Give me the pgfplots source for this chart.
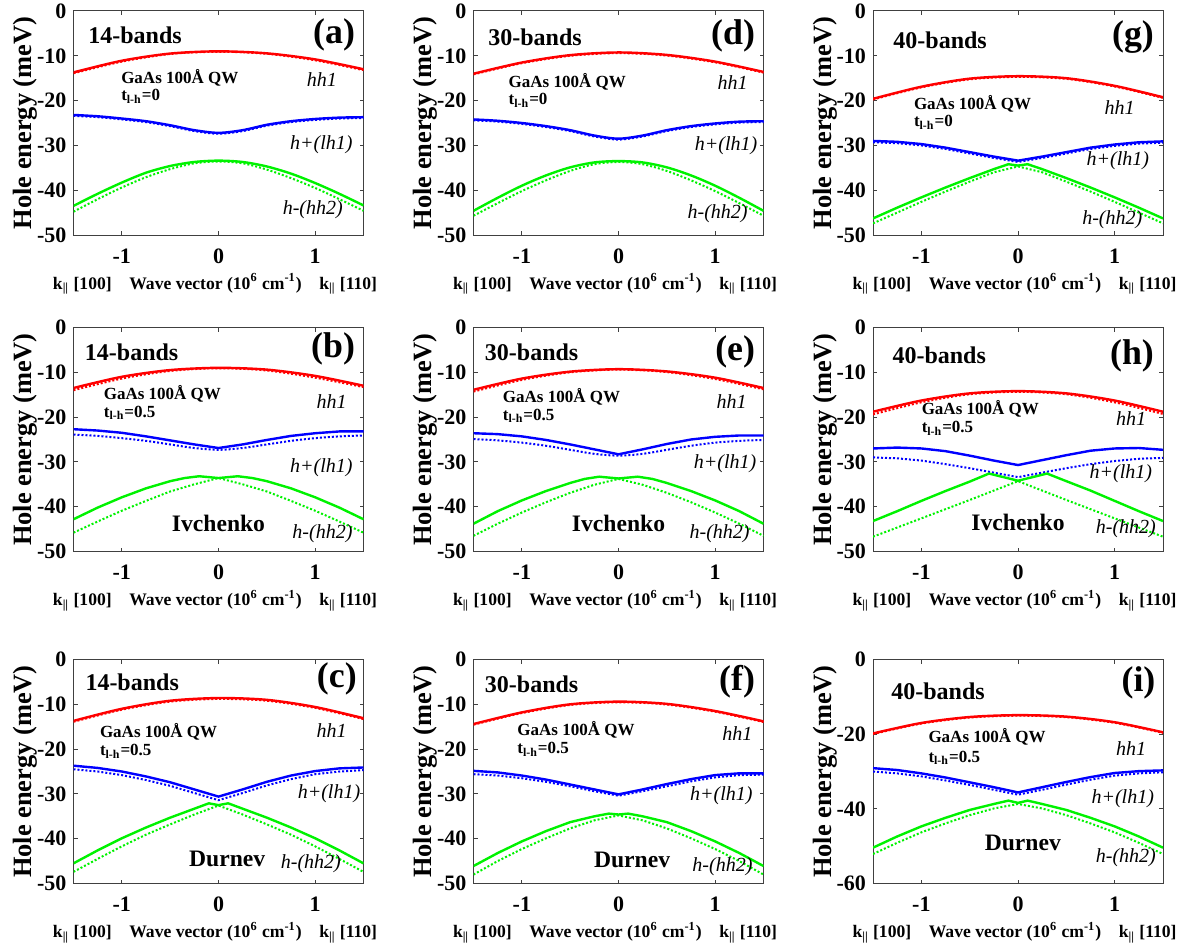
\documentclass[border=0pt]{standalone}
\usepackage{fontspec}
\setmainfont{Liberation Serif}
\usepackage{pgfplots}
\pgfplotsset{compat=1.18}
\definecolor{cR}{rgb}{1,0,0}
\definecolor{cB}{rgb}{0,0,1}
\definecolor{cG}{rgb}{0,0.95,0}
\pgfplotsset{
 panel/.style={
  width=145pt, height=112pt, scale only axis,
  xmin=-1.5, xmax=1.5, ymin=-50, ymax=0,
  xtick={-1,0,1}, ytick={-50,-40,-30,-20,-10,0},
  tick align=inside, major tick length=2pt,
  axis line style={line width=0.5pt, black!75},
  every tick/.style={black!75, line width=0.5pt},
  tick label style={font=\bfseries\fontsize{11}{12}\selectfont},
  /pgf/number format/assume math mode=true,
  xticklabel style={anchor=base, yshift=-14pt},
  ylabel={Hole energy (meV)},
  ylabel style={font=\bfseries\fontsize{13.2}{14}\selectfont, at={(axis description cs:-0.166,0.5)}, anchor=center},
  xlabel={k\textsubscript{||} [100]\quad Wave vector (10\textsuperscript{6} cm\textsuperscript{-1})\quad k\textsubscript{||} [110]},
  xlabel style={font=\bfseries\fontsize{8.8}{10}\selectfont, at={(axis description cs:0.488,0)}, anchor=center, yshift=-24.5pt},
 },
 s/.style={line width=1.2pt, no marks},
 d/.style={line width=1pt, densely dotted, no marks},
}
\newcommand{\head}[6]{%
 \node[anchor=west, inner sep=0pt, font=\bfseries\fontsize{12}{12}\selectfont] at (rel axis cs:#2,#3) {#1};
 \node[anchor=east, inner sep=0pt, font=\bfseries\fontsize{17.9}{18}\selectfont] at (rel axis cs:#5,#6) {#4};}
\newcommand{\gaas}[4]{%
 \node[anchor=base west, inner sep=0pt, font=\bfseries\fontsize{8.5}{9}\selectfont] at (axis cs:#1,#2) {GaAs 100Å QW};
 \node[anchor=base west, inner sep=0pt, font=\bfseries\fontsize{8.5}{9}\selectfont] at (axis cs:#1,#3) {t\textsubscript{l-h}=#4};}
\newcommand{\bands}[6]{%
 \node[anchor=east, inner sep=0pt, font=\itshape\fontsize{10}{10}\selectfont] at (axis cs:#1,#2) {hh1};
 \node[anchor=east, inner sep=0pt, font=\itshape\fontsize{10}{10}\selectfont] at (axis cs:#3,#4) {h+(lh1)};
 \node[anchor=east, inner sep=0pt, font=\itshape\fontsize{10}{10}\selectfont] at (axis cs:#5,#6) {h-(hh2)};}
\newcommand{\model}[3]{%
 \node[anchor=center, inner sep=0pt, font=\bfseries\fontsize{11.8}{12}\selectfont] at (axis cs:#1,#2) {#3};}
\begin{document}
\begin{tikzpicture}
\useasboundingbox (0,0) rectangle (593pt,475pt);
% ---------------- (a)
\begin{axis}[panel, at={(36.75pt,469.5pt)}, anchor=north west]
\addplot[cR,s,smooth] coordinates {(-1.5,-13.7)(-1,-11.1)(-0.5,-9.5)(0,-9.0)(0.5,-9.45)(1,-10.8)(1.5,-13.0)};
\addplot[cR,d,smooth] coordinates {(-1.5,-13.9)(-1,-11.3)(-0.5,-9.6)(0,-9.1)(0.5,-9.55)(1,-11.0)(1.5,-13.2)};
\addplot[cB,s,smooth] coordinates {(-1.5,-23.2)(-1.25,-23.5)(-1,-24.0)(-0.75,-24.6)(-0.5,-25.5)(-0.25,-26.6)(0,-27.2)(0.25,-26.6)(0.5,-25.4)(0.75,-24.6)(1,-24.1)(1.25,-23.8)(1.5,-23.7)};
\addplot[cB,d,smooth] coordinates {(-1.5,-23.4)(-1.25,-23.7)(-1,-24.2)(-0.75,-24.8)(-0.5,-25.7)(-0.25,-26.8)(0,-27.4)(0.25,-26.8)(0.5,-25.6)(0.75,-24.8)(1,-24.3)(1.25,-24.0)(1.5,-23.9)};
\addplot[cG,s,smooth] coordinates {(-1.5,-43.5)(-1.25,-40.8)(-1,-38.3)(-0.75,-36.1)(-0.5,-34.6)(-0.25,-33.7)(0,-33.4)(0.25,-33.7)(0.5,-34.7)(0.75,-36.3)(1,-38.4)(1.25,-40.8)(1.5,-43.4)};
\addplot[cG,d,smooth] coordinates {(-1.5,-44.8)(-1.25,-42.0)(-1,-39.4)(-0.75,-37.1)(-0.5,-35.3)(-0.25,-34.0)(0,-33.6)(0.25,-34.0)(0.5,-35.4)(0.75,-37.3)(1,-39.5)(1.25,-42.0)(1.5,-44.6)};
\head{14-bands}{0.05}{0.89}{(a)}{0.972}{0.893}
\gaas{-1.01}{-16.1}{-20.0}{0}
\bands{1.23}{-15.2}{1.39}{-29.9}{1.29}{-44.4}
\end{axis}
% ---------------- (b)
\begin{axis}[panel, at={(36.75pt,311.25pt)}, anchor=north west]
\addplot[cR,s,smooth] coordinates {(-1.5,-13.5)(-1,-11.0)(-0.5,-9.5)(0,-9.0)(0.5,-9.4)(1,-10.8)(1.5,-13.0)};
\addplot[cR,d,smooth] coordinates {(-1.5,-14.0)(-1,-11.4)(-0.5,-9.7)(0,-9.1)(0.5,-9.6)(1,-11.2)(1.5,-13.3)};
\addplot[cB,s] coordinates {(-1.5,-22.7)(-1.25,-23.0)(-1,-23.5)(-0.75,-24.3)(-0.5,-25.2)(-0.25,-26.1)(0,-26.9)(0.25,-26.1)(0.5,-25.1)(0.75,-24.2)(1,-23.6)(1.25,-23.2)(1.5,-23.2)};
\addplot[cB,d,smooth] coordinates {(-1.5,-23.9)(-1.25,-24.2)(-1,-24.7)(-0.75,-25.3)(-0.5,-26.1)(-0.25,-26.9)(0,-27.3)(0.25,-26.9)(0.5,-26.1)(0.75,-25.3)(1,-24.7)(1.25,-24.3)(1.5,-24.1)};
\addplot[cG,s] coordinates {(-1.5,-42.8)(-1.25,-40.2)(-1,-37.9)(-0.75,-35.9)(-0.5,-34.3)(-0.35,-33.6)(-0.2,-33.2)(0,-33.6)(0.2,-33.2)(0.35,-33.6)(0.5,-34.3)(0.75,-35.9)(1,-37.9)(1.25,-40.2)(1.5,-42.8)};
\addplot[cG,d] coordinates {(-1.5,-45.8)(-1.25,-43.3)(-1,-40.9)(-0.75,-38.7)(-0.5,-36.6)(-0.25,-35.0)(0,-33.6)(0.25,-35.0)(0.5,-36.6)(0.75,-38.7)(1,-40.9)(1.25,-43.3)(1.5,-45.8)};
\head{14-bands}{0.038}{0.89}{(b)}{0.972}{0.906}
\gaas{-1.19}{-16.1}{-20.0}{0.5}
\bands{1.33}{-16.5}{1.39}{-31.2}{1.39}{-46}
\model{0}{-43.7}{Ivchenko}
\end{axis}
% ---------------- (c)
\begin{axis}[panel, at={(36.75pt,145.25pt)}, anchor=north west]
\addplot[cR,s,smooth] coordinates {(-1.5,-13.7)(-1,-11.0)(-0.5,-9.2)(0,-8.6)(0.5,-9.0)(1,-10.6)(1.5,-13.1)};
\addplot[cR,d,smooth] coordinates {(-1.5,-13.9)(-1,-11.2)(-0.5,-9.4)(0,-8.8)(0.5,-9.2)(1,-10.8)(1.5,-13.3)};
\addplot[cB,s] coordinates {(-1.5,-23.7)(-1.25,-24.2)(-1,-25.0)(-0.75,-26.1)(-0.5,-27.4)(-0.25,-29.0)(0,-30.6)(0.25,-29.0)(0.5,-27.3)(0.75,-25.9)(1,-24.9)(1.25,-24.3)(1.5,-24.1)};
\addplot[cB,d] coordinates {(-1.5,-24.5)(-1.25,-25.0)(-1,-25.8)(-0.75,-26.9)(-0.5,-28.2)(-0.25,-29.8)(0,-31.4)(0.25,-29.8)(0.5,-28.1)(0.75,-26.7)(1,-25.6)(1.25,-25.0)(1.5,-24.7)};
\addplot[cG,s] coordinates {(-1.5,-45.5)(-1.25,-42.6)(-1,-39.9)(-0.75,-37.5)(-0.5,-35.3)(-0.25,-33.3)(-0.1,-32.1)(0,-32.5)(0.1,-32.1)(0.25,-33.3)(0.5,-35.3)(0.75,-37.5)(1,-39.9)(1.25,-42.6)(1.5,-45.5)};
\addplot[cG,d] coordinates {(-1.5,-47.4)(-1.25,-44.5)(-1,-41.7)(-0.75,-39.1)(-0.5,-36.8)(-0.25,-34.6)(0,-32.6)(0.25,-34.6)(0.5,-36.8)(0.75,-39.1)(1,-41.7)(1.25,-44.5)(1.5,-47.4)};
\head{14-bands}{0.04}{0.897}{(c)}{0.978}{0.915}
\gaas{-1.23}{-17.4}{-21.4}{0.5}
\bands{1.33}{-15.9}{1.47}{-30.0}{1.27}{-45.5}
\model{0.09}{-44.6}{Durnev}
\end{axis}
% ---------------- (d)
\begin{axis}[panel, at={(236.75pt,469.5pt)}, anchor=north west]
\addplot[cR,s,smooth] coordinates {(-1.5,-14.0)(-1,-11.5)(-0.5,-9.85)(0,-9.25)(0.5,-9.8)(1,-11.3)(1.5,-13.6)};
\addplot[cR,d,smooth] coordinates {(-1.5,-14.15)(-1,-11.65)(-0.5,-10.0)(0,-9.4)(0.5,-9.95)(1,-11.45)(1.5,-13.75)};
\addplot[cB,s,smooth] coordinates {(-1.5,-24.2)(-1.25,-24.5)(-1,-25.0)(-0.75,-25.7)(-0.5,-26.6)(-0.25,-27.8)(0,-28.5)(0.25,-27.8)(0.5,-26.6)(0.75,-25.7)(1,-25.1)(1.25,-24.7)(1.5,-24.6)};
\addplot[cB,d,smooth] coordinates {(-1.5,-24.4)(-1.25,-24.7)(-1,-25.2)(-0.75,-25.9)(-0.5,-26.8)(-0.25,-28.0)(0,-28.7)(0.25,-28.0)(0.5,-26.8)(0.75,-25.9)(1,-25.3)(1.25,-24.9)(1.5,-24.8)};
\addplot[cG,s,smooth] coordinates {(-1.5,-44.6)(-1.25,-41.7)(-1,-39.0)(-0.75,-36.7)(-0.5,-34.9)(-0.25,-33.8)(0,-33.5)(0.25,-33.8)(0.5,-34.9)(0.75,-36.7)(1,-39.0)(1.25,-41.7)(1.5,-44.6)};
\addplot[cG,d,smooth] coordinates {(-1.5,-45.7)(-1.25,-42.9)(-1,-40.2)(-0.75,-37.8)(-0.5,-35.7)(-0.25,-34.2)(0,-33.7)(0.25,-34.2)(0.5,-35.7)(0.75,-37.8)(1,-40.2)(1.25,-42.9)(1.5,-45.7)};
\head{30-bands}{0.05}{0.884}{(d)}{0.972}{0.89}
\gaas{-1.14}{-17.0}{-20.9}{0}
\bands{1.34}{-16.0}{1.44}{-30.1}{1.34}{-45.3}
\end{axis}
% ---------------- (e)
\begin{axis}[panel, at={(236.75pt,311.25pt)}, anchor=north west]
\addplot[cR,s,smooth] coordinates {(-1.5,-13.9)(-1,-11.4)(-0.5,-9.85)(0,-9.3)(0.5,-9.8)(1,-11.2)(1.5,-13.5)};
\addplot[cR,d,smooth] coordinates {(-1.5,-14.3)(-1,-11.7)(-0.5,-10.0)(0,-9.4)(0.5,-9.95)(1,-11.5)(1.5,-13.8)};
\addplot[cB,s] coordinates {(-1.5,-23.6)(-1.25,-23.8)(-1,-24.3)(-0.75,-25.1)(-0.5,-26.1)(-0.25,-27.2)(0,-28.3)(0.25,-27.2)(0.5,-26.0)(0.75,-25.0)(1,-24.4)(1.25,-24.1)(1.5,-24.1)};
\addplot[cB,d,smooth] coordinates {(-1.5,-24.9)(-1.25,-25.2)(-1,-25.7)(-0.75,-26.4)(-0.5,-27.3)(-0.25,-28.2)(0,-28.6)(0.25,-28.2)(0.5,-27.3)(0.75,-26.4)(1,-25.7)(1.25,-25.3)(1.5,-25.1)};
\addplot[cG,s] coordinates {(-1.5,-43.8)(-1.25,-41.0)(-1,-38.6)(-0.75,-36.5)(-0.5,-34.7)(-0.35,-33.8)(-0.2,-33.3)(0,-33.7)(0.2,-33.3)(0.35,-33.8)(0.5,-34.7)(0.75,-36.5)(1,-38.6)(1.25,-41.0)(1.5,-43.8)};
\addplot[cG,d] coordinates {(-1.5,-46.5)(-1.25,-43.8)(-1,-41.3)(-0.75,-39.0)(-0.5,-36.9)(-0.25,-35.1)(0,-33.8)(0.25,-35.1)(0.5,-36.9)(0.75,-39.0)(1,-41.3)(1.25,-43.8)(1.5,-46.5)};
\head{30-bands}{0.038}{0.89}{(e)}{0.972}{0.89}
\gaas{-1.2}{-16.7}{-20.7}{0.5}
\bands{1.33}{-16.5}{1.43}{-30.4}{1.36}{-46.0}
\model{0}{-43.7}{Ivchenko}
\end{axis}
% ---------------- (f)
\begin{axis}[panel, at={(236.75pt,145.25pt)}, anchor=north west]
\addplot[cR,s,smooth] coordinates {(-1.5,-14.4)(-1,-11.8)(-0.5,-10.0)(0,-9.4)(0.5,-9.9)(1,-11.5)(1.5,-13.8)};
\addplot[cR,d,smooth] coordinates {(-1.5,-14.55)(-1,-11.95)(-0.5,-10.15)(0,-9.55)(0.5,-10.05)(1,-11.65)(1.5,-13.95)};
\addplot[cB,s] coordinates {(-1.5,-24.85)(-1.25,-25.2)(-1,-25.9)(-0.75,-26.8)(-0.5,-27.9)(-0.25,-29.0)(0,-30.1)(0.25,-29.0)(0.5,-27.8)(0.75,-26.7)(1,-25.8)(1.25,-25.4)(1.5,-25.4)};
\addplot[cB,d] coordinates {(-1.5,-25.6)(-1.25,-25.9)(-1,-26.5)(-0.75,-27.3)(-0.5,-28.3)(-0.25,-29.4)(0,-30.4)(0.25,-29.4)(0.5,-28.3)(0.75,-27.2)(1,-26.3)(1.25,-25.8)(1.5,-25.7)};
\addplot[cG,s] coordinates {(-1.5,-46.1)(-1.25,-43.2)(-1,-40.6)(-0.75,-38.3)(-0.5,-36.3)(-0.25,-35.0)(-0.1,-34.4)(0,-34.6)(0.1,-34.4)(0.25,-35.0)(0.5,-36.3)(0.75,-38.3)(1,-40.6)(1.25,-43.2)(1.5,-46.1)};
\addplot[cG,d] coordinates {(-1.5,-48.0)(-1.25,-45.0)(-1,-42.3)(-0.75,-39.9)(-0.5,-37.7)(-0.25,-35.9)(0,-34.8)(0.25,-35.9)(0.5,-37.7)(0.75,-39.9)(1,-42.3)(1.25,-45.0)(1.5,-48.0)};
\head{30-bands}{0.038}{0.89}{(f)}{0.972}{0.9}
\gaas{-1.05}{-17.0}{-21.0}{0.5}
\bands{1.39}{-16.6}{1.39}{-30.5}{1.39}{-46.2}
\model{0.14}{-44.8}{Durnev}
\end{axis}
% ---------------- (g)
\begin{axis}[panel, at={(436.5pt,469.5pt)}, anchor=north west]
\addplot[cR,s,smooth] coordinates {(-1.5,-19.6)(-1,-16.9)(-0.5,-15.1)(0,-14.55)(0.5,-15.0)(1,-16.7)(1.5,-19.25)};
\addplot[cR,d,smooth] coordinates {(-1.5,-19.75)(-1,-17.05)(-0.5,-15.25)(0,-14.7)(0.5,-15.15)(1,-16.85)(1.5,-19.4)};
\addplot[cB,s] coordinates {(-1.5,-29.0)(-1.25,-29.2)(-1,-29.7)(-0.75,-30.5)(-0.5,-31.5)(-0.25,-32.5)(0,-33.4)(0.25,-32.5)(0.5,-31.5)(0.75,-30.5)(1,-29.8)(1.25,-29.3)(1.5,-29.1)};
\addplot[cB,d] coordinates {(-1.5,-29.3)(-1.25,-29.5)(-1,-30.0)(-0.75,-30.8)(-0.5,-31.8)(-0.25,-32.8)(0,-33.7)(0.25,-32.8)(0.5,-31.8)(0.75,-30.8)(1,-30.1)(1.25,-29.6)(1.5,-29.4)};
\addplot[cG,s] coordinates {(-1.5,-46.3)(-1.25,-43.9)(-1,-41.6)(-0.75,-39.4)(-0.5,-37.3)(-0.25,-35.3)(-0.1,-34.2)(0,-34.5)(0.1,-34.2)(0.25,-35.3)(0.5,-37.3)(0.75,-39.4)(1,-41.6)(1.25,-43.9)(1.5,-46.3)};
\addplot[cG,d] coordinates {(-1.5,-47.4)(-1.25,-45.0)(-1,-42.6)(-0.75,-40.3)(-0.5,-38.1)(-0.25,-36.0)(0,-34.7)(0.25,-36.0)(0.5,-38.1)(0.75,-40.3)(1,-42.6)(1.25,-45.0)(1.5,-47.4)};
\head{40-bands}{0.069}{0.87}{(g)}{0.97}{0.884}
\gaas{-1.08}{-21.9}{-25.8}{0}
\bands{1.21}{-21.6}{1.36}{-33.5}{1.29}{-46.6}
\end{axis}
% ---------------- (h)
\begin{axis}[panel, at={(436.5pt,311.25pt)}, anchor=north west]
\addplot[cR,s,smooth] coordinates {(-1.5,-18.8)(-1,-16.3)(-0.5,-14.7)(0,-14.2)(0.5,-14.7)(1,-16.3)(1.5,-18.8)};
\addplot[cR,d,smooth] coordinates {(-1.5,-19.4)(-1,-16.7)(-0.5,-14.9)(0,-14.35)(0.5,-14.9)(1,-16.7)(1.5,-19.3)};
\addplot[cB,s] coordinates {(-1.5,-27.0)(-1.25,-26.8)(-1,-27.0)(-0.75,-27.6)(-0.5,-28.6)(-0.25,-29.7)(0,-30.7)(0.25,-29.6)(0.5,-28.5)(0.75,-27.5)(1,-27.0)(1.25,-26.9)(1.5,-27.3)};
\addplot[cB,d] coordinates {(-1.5,-29.0)(-1.25,-29.2)(-1,-29.7)(-0.75,-30.5)(-0.5,-31.4)(-0.25,-32.4)(0,-33.4)(0.25,-32.4)(0.5,-31.4)(0.75,-30.5)(1,-29.8)(1.25,-29.3)(1.5,-29.1)};
\addplot[cG,s] coordinates {(-1.5,-43.2)(-1.25,-41.0)(-1,-38.7)(-0.75,-36.5)(-0.5,-34.4)(-0.3,-32.6)(0,-34.2)(0.3,-32.6)(0.5,-34.3)(0.75,-36.4)(1,-38.7)(1.25,-41.0)(1.5,-43.2)};
\addplot[cG,d] coordinates {(-1.5,-46.7)(-1,-42.6)(-0.5,-38.5)(0,-34.3)(0.5,-38.5)(1,-42.6)(1.5,-46.7)};
\head{40-bands}{0.066}{0.875}{(h)}{0.97}{0.875}
\gaas{-1.0}{-19.4}{-23.4}{0.5}
\bands{1.33}{-20.3}{1.39}{-32.6}{1.43}{-44.9}
\model{0}{-43.5}{Ivchenko}
\end{axis}
% ---------------- (i)
\begin{axis}[panel, ymin=-60, ytick={-60,-40,-20,0}, at={(436.5pt,145.25pt)}, anchor=north west]
\addplot[cR,s,smooth] coordinates {(-1.5,-19.8)(-1,-17.0)(-0.5,-15.4)(0,-14.9)(0.5,-15.3)(1,-16.8)(1.5,-19.5)};
\addplot[cR,d,smooth] coordinates {(-1.5,-19.95)(-1,-17.15)(-0.5,-15.55)(0,-15.05)(0.5,-15.45)(1,-16.95)(1.5,-19.65)};
\addplot[cB,s] coordinates {(-1.5,-29.1)(-1.25,-29.6)(-1,-30.5)(-0.75,-31.6)(-0.5,-32.9)(-0.25,-34.2)(0,-35.6)(0.25,-34.2)(0.5,-32.8)(0.75,-31.5)(1,-30.4)(1.25,-29.9)(1.5,-29.7)};
\addplot[cB,d] coordinates {(-1.5,-30.0)(-1.25,-30.5)(-1,-31.3)(-0.75,-32.4)(-0.5,-33.6)(-0.25,-34.9)(0,-36.2)(0.25,-34.9)(0.5,-33.5)(0.75,-32.2)(1,-31.1)(1.25,-30.5)(1.5,-30.2)};
\addplot[cG,s] coordinates {(-1.5,-50.4)(-1.25,-47.4)(-1,-44.7)(-0.75,-42.4)(-0.5,-40.3)(-0.25,-38.7)(-0.1,-37.8)(0,-38.4)(0.1,-37.8)(0.25,-38.7)(0.5,-40.3)(0.75,-42.4)(1,-44.7)(1.25,-47.4)(1.5,-50.4)};
\addplot[cG,d] coordinates {(-1.5,-52.1)(-1.25,-49.1)(-1,-46.3)(-0.75,-43.9)(-0.5,-41.7)(-0.25,-39.9)(0,-38.7)(0.25,-39.9)(0.5,-41.7)(0.75,-43.9)(1,-46.3)(1.25,-49.1)(1.5,-52.1)};
\head{40-bands}{0.062}{0.857}{(i)}{0.975}{0.897}
\gaas{-0.93}{-22.1}{-27.5}{0.5}
\bands{1.33}{-23.8}{1.41}{-37.3}{1.43}{-53.2}
\model{0.05}{-49.2}{Durnev}
\end{axis}
\end{tikzpicture}
\end{document}
